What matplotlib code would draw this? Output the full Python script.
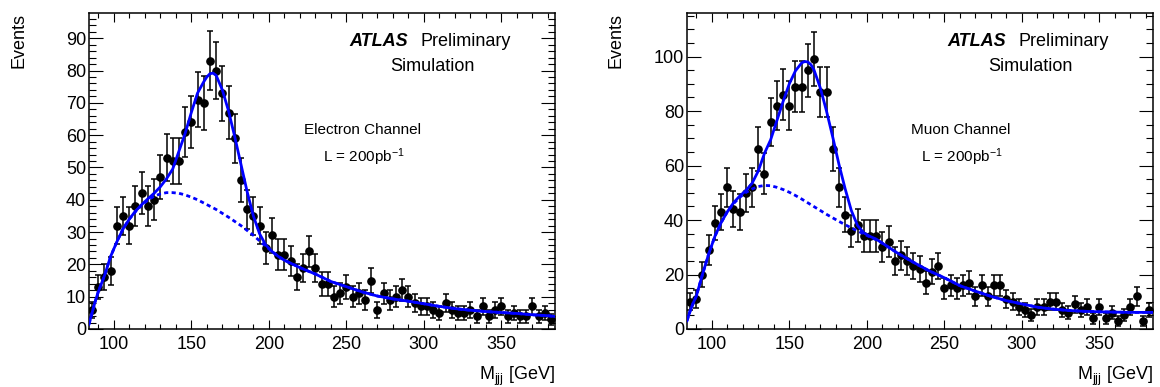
import numpy as np
import matplotlib
matplotlib.use("Agg")
import matplotlib.pyplot as plt
from matplotlib.ticker import MultipleLocator

plt.rcParams['font.family'] = ['Liberation Sans', 'DejaVu Sans']
plt.rcParams['mathtext.fontset'] = 'custom'
plt.rcParams['mathtext.rm'] = 'Liberation Sans'
plt.rcParams['mathtext.it'] = 'Liberation Sans:italic'
plt.rcParams['mathtext.default'] = 'regular'

# bin centres, 4 GeV bins from 84 to 384
mass = list(range(86, 384, 4))

electron_counts = [6, 13, 16, 18, 32, 35, 32, 38, 42, 38,
                   40, 47, 53, 52, 52, 61, 64, 71, 70, 83,
                   80, 73, 67, 59, 46, 37, 35, 32, 25, 29,
                   23, 23, 21, 16, 19, 24, 19, 14, 14, 10,
                   11, 13, 10, 11, 9, 15, 6, 11, 9, 10,
                   12, 10, 8, 7, 7, 6, 5, 8, 6, 5,
                   5, 6, 4, 7, 4, 6, 7, 4, 5, 4,
                   4, 7, 4, 5, 3]

muon_counts = [10, 11, 20, 29, 39, 43, 52, 44, 43, 50,
               52, 66, 57, 76, 82, 86, 82, 89, 89, 95,
               99, 87, 87, 66, 52, 42, 36, 38, 34, 34,
               34, 30, 32, 25, 27, 25, 23, 22, 17, 21,
               23, 15, 16, 15, 16, 17, 12, 16, 12, 16,
               16, 11, 10, 8, 7, 5, 8, 8, 10, 10,
               7, 6, 9, 7, 8, 4, 8, 4, 6, 3,
               5, 8, 12, 3, 7]

# fit curves
curve_x = [84, 86, 88, 90,
           94, 98, 102, 106, 110, 114, 118, 122, 126, 130, 134, 138, 142, 146, 150, 154, 158,
           160, 162, 164, 166,
           170, 174, 178, 182, 186, 190, 194, 198, 202, 206, 210,
           220, 230, 240, 250, 260, 270, 280, 290, 300, 310, 320, 330, 340, 350, 360, 370, 380,
           384]

electron_fit = [1.5, 5, 8.5, 11.5,
                16.5, 22.5, 27, 31, 34, 36.5, 38.5, 40.3, 42, 44, 46.5, 49.5, 55, 60.5, 67, 73, 76.5,
                78, 79, 79.2, 78.5,
                74, 67.5, 59.5, 51, 42.5, 35, 29.5, 26, 24, 22.5, 21.3,
                19, 17, 14.7, 13.1, 11.5, 10.2, 9.3, 8.6, 7.8, 7, 6.3, 5.8, 5.4, 5.1, 4.8, 4.4, 4.1,
                3.9]
electron_bkg = [1.5, 5, 8.5, 11.5,
                16.5, 22.5, 27, 31, 34, 36.3, 38.3, 39.9, 41.1, 41.8, 42.2, 42.2, 42, 41.5, 40.8, 40, 39,
                38.5, 38, 37.5, 37,
                35.8, 34.6, 33.3, 32, 30.5, 29, 27.3, 25.6, 24, 22.5, 21.3] + electron_fit[36:]

muon_fit = [3, 6.5, 9.5, 12,
            20, 27.5, 34, 39, 43, 46.3, 48.8, 50.8, 53.5, 58, 64.5, 69.5, 76.5, 83.5, 90, 94.8, 97.7,
            98.2, 98, 97, 95,
            88.5, 80, 70.5, 60.5, 51.5, 43.5, 38, 35.3, 34, 33, 31.5,
            27.8, 24.5, 21.4, 18.8, 15.9, 13.9, 12, 10.4, 9.2, 8, 7.3, 6.8, 6.5, 6.3, 6.2, 6.1, 6.1,
            6.1]
muon_bkg = [3, 6.5, 9.5, 12,
            20, 27.5, 34, 39, 43, 46, 48.3, 50.1, 51.4, 52.3, 52.7, 52.6, 52, 51.2, 50.2, 49, 47.7,
            47, 46.3, 45.6, 44.9,
            43.5, 42.1, 40.8, 39.5, 38.3, 37.1, 36, 34.9, 33.8, 32.8, 31.5] + muon_fit[36:]


def draw_panel(ax, counts, fit, bkg, ymax, ymajor, yminor, channel):
    counts = np.array(counts, dtype=float)
    ax.errorbar(mass, counts, yerr=np.sqrt(counts), fmt='o', color='black',
                ms=5.2, elinewidth=1.1, capsize=2, capthick=1.1, zorder=2)
    ax.plot(curve_x, bkg, color='#0000ff', lw=2, linestyle=(0, (1.5, 1.2)), zorder=3)
    ax.plot(curve_x, fit, color='#0000ff', lw=2, zorder=4)

    ax.set_xlim(84, 384.5)
    ax.set_ylim(0, ymax)
    ax.xaxis.set_major_locator(MultipleLocator(50))
    ax.xaxis.set_minor_locator(MultipleLocator(10))
    ax.yaxis.set_major_locator(MultipleLocator(ymajor))
    ax.yaxis.set_minor_locator(MultipleLocator(yminor))
    ax.tick_params(which='both', direction='in', top=True, right=True, width=0.8, labelsize=13)
    ax.tick_params(axis='x', which='major', length=6.8, pad=5)
    ax.tick_params(axis='x', which='minor', length=3.4)
    ax.tick_params(axis='y', which='major', length=10, pad=2)
    ax.tick_params(axis='y', which='minor', length=5)
    for s in ax.spines.values():
        s.set_linewidth(1.1)

    ax.text(0.684, 0.911, 'ATLAS', transform=ax.transAxes, ha='right', va='center',
            fontsize=13, fontweight='bold', style='italic')
    ax.text(0.712, 0.911, 'Preliminary', transform=ax.transAxes, ha='left', va='center', fontsize=13)
    ax.text(0.738, 0.832, 'Simulation', transform=ax.transAxes, ha='center', va='center', fontsize=13)
    ax.text(0.588, 0.630, channel, transform=ax.transAxes, ha='center', va='center', fontsize=11)
    ax.text(0.59, 0.544, r'L = 200pb$^{-1}$', transform=ax.transAxes, ha='center', va='center', fontsize=11)

    ax.text(1.0, -0.15, r'M$_{\rm jjj}$ [GeV]', transform=ax.transAxes, ha='right', va='center', fontsize=13)


fig = plt.figure(figsize=(11.6, 3.87), dpi=100)
ax1 = fig.add_axes([0.0767, 0.1499, 0.4017, 0.8165])
ax2 = fig.add_axes([0.5922, 0.1499, 0.4017, 0.8165])

draw_panel(ax1, electron_counts, electron_fit, electron_bkg, 97.8, 10, 2, 'Electron Channel')
draw_panel(ax2, muon_counts, muon_fit, muon_bkg, 116, 20, 5, 'Muon Channel')

fig.text(19 / 1160, 1 - 13 / 387, 'Events', rotation=90, ha='center', va='top', fontsize=13)
fig.text(616 / 1160, 1 - 13 / 387, 'Events', rotation=90, ha='center', va='top', fontsize=13)

plt.savefig('out.png', dpi=100)
